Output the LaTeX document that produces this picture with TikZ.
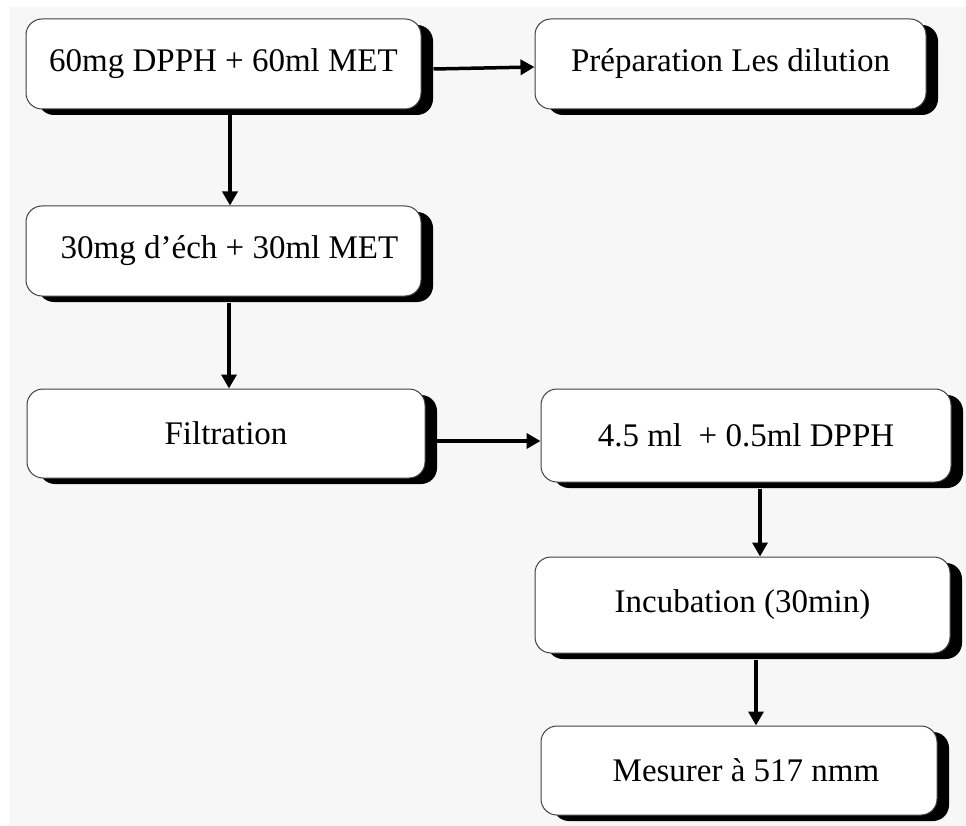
\documentclass[tikz,border=0pt]{standalone}
\usepackage{fontspec}
\setmainfont{Liberation Serif}
\usetikzlibrary{shadows,calc,arrows.meta}
\begin{document}
\begin{tikzpicture}[x=1pt,y=-1pt,
  box/.style={rectangle, rounded corners=16pt, draw=black!75, line width=1pt, fill=white,
    font=\fontsize{33}{40}\selectfont, inner sep=0pt,
    drop shadow={shadow xshift=12pt, shadow yshift=-6pt, fill=black, opacity=1}},
  arr/.style={line width=3.5pt, -{Triangle[length=14pt,width=15pt]}}]
\useasboundingbox (0,0) rectangle (966,826);
\fill[black!3] (9,7) rectangle (966,826);
\node[box, minimum width=395pt, minimum height=90pt] (b1) at (223.5,64) {60mg DPPH + 60ml MET};
\node[box, minimum width=391pt, minimum height=90pt] (b2) at (730.5,64) {Préparation Les dilution};
\node[box, minimum width=395pt, minimum height=90pt] (b3) at (223.5,251) {\hspace*{12pt}30mg d’éch + 30ml MET};
\node[box, minimum width=398pt, minimum height=89pt] (b4) at (226,433.5) {Filtration};
\node[box, minimum width=410pt, minimum height=93pt] (b5) at (746,435.5) {4.5 ml \ + 0.5ml DPPH};
\node[box, minimum width=415pt, minimum height=96pt] (b6) at (742.5,605) {Incubation (30min)};
\node[box, minimum width=396pt, minimum height=89pt] (b7) at (739,770.5) {\hspace*{14pt}Mesurer à 517 nmm};
\draw[arr] ($(b1.east)+(12,5)$) -- ($(b2.west)+(0,3)$);
\draw[arr] ($(b1.south)+(6.5,6)$) -- ($(b3.north)+(6.5,0)$);
\draw[arr] ($(b3.south)+(5.5,6)$) -- ($(b4.north)+(3,0)$);
\draw[arr] ($(b4.east)+(8,7.5)$) -- ($(b5.west)+(0,5.5)$);
\draw[arr] ($(b5.south)+(14,6)$) -- ($(b6.north)+(17.5,0)$);
\draw[arr] ($(b6.south)+(13.5,6)$) -- ($(b7.north)+(17,0)$);
\end{tikzpicture}
\end{document}
